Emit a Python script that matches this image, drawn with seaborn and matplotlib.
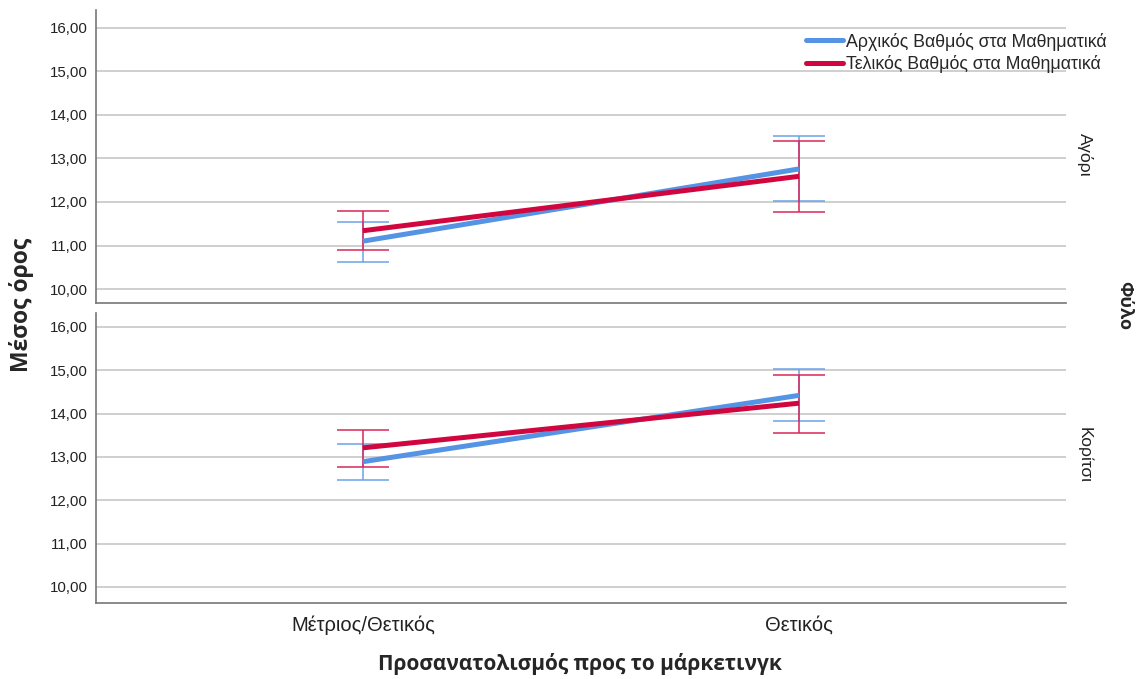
import numpy as np
import pandas as pd
import matplotlib
matplotlib.use("Agg")
import matplotlib.pyplot as plt
import seaborn as sns
from matplotlib.ticker import FuncFormatter, FixedLocator

sns.set_theme(style="white")
plt.rcParams["font.family"] = ["Liberation Sans", "DejaVu Sans"]

# Data: mean grades with confidence interval bounds, by gender and marketing orientation
categories = ["Μέτριος/Θετικός", "Θετικός"]
series_names = ["Αρχικός Βαθμός στα Μαθηματικά", "Τελικός Βαθμός στα Μαθηματικά"]
genders = ["Αγόρι", "Κορίτσι"]

boy_initial_mean = [11.10, 12.76]
boy_initial_low = [10.62, 12.02]
boy_initial_high = [11.55, 13.51]
boy_final_mean = [11.34, 12.59]
boy_final_low = [10.89, 11.78]
boy_final_high = [11.80, 13.41]

girl_initial_mean = [12.89, 14.42]
girl_initial_low = [12.46, 13.82]
girl_initial_high = [13.29, 15.02]
girl_final_mean = [13.21, 14.24]
girl_final_low = [12.77, 13.56]
girl_final_high = [13.62, 14.89]

yticks = [10, 11, 12, 13, 14, 15, 16]

rows = []
for g, series in [
    ("Αγόρι", [(boy_initial_mean, boy_initial_low, boy_initial_high),
               (boy_final_mean, boy_final_low, boy_final_high)]),
    ("Κορίτσι", [(girl_initial_mean, girl_initial_low, girl_initial_high),
                 (girl_final_mean, girl_final_low, girl_final_high)]),
]:
    for name, (m, lo, hi) in zip(series_names, series):
        for c, mv, lv, hv in zip(categories, m, lo, hi):
            rows.append({"Φύλο": g, "Σειρά": name, "Κατηγορία": c,
                         "Μέσος": mv, "Κάτω": lv, "Άνω": hv})
df = pd.DataFrame(rows)

line_colors = {series_names[0]: "#5593E4", series_names[1]: "#D1063E"}
err_colors = {series_names[0]: "#6AA3EA", series_names[1]: "#D9285A"}

fig = plt.figure(figsize=(11.36, 6.79), dpi=100)
W, H = 1136, 679
left, right = 96 / W, 1066 / W
ax_top = fig.add_axes([left, 1 - 303 / H, right - left, (303 - 10) / H])
ax_bot = fig.add_axes([left, 1 - 603 / H, right - left, (603 - 313) / H])

fmt = FuncFormatter(lambda v, p: f"{v:.2f}".replace(".", ","))
xpos = {c: i for i, c in enumerate(categories)}

panels = [(ax_top, "Αγόρι", (9.68, 16.41), 155, 10, 303),
          (ax_bot, "Κορίτσι", (9.63, 16.32), 455, 313, 603)]

for ax, g, ylim, label_y, top_px, bot_px in panels:
    sub = df[df["Φύλο"] == g]
    # confidence-interval whiskers
    for name in series_names:
        s = sub[sub["Σειρά"] == name]
        x = s["Κατηγορία"].map(xpos).to_numpy()
        m = s["Μέσος"].to_numpy()
        ax.errorbar(x, m, yerr=[m - s["Κάτω"].to_numpy(), s["Άνω"].to_numpy() - m],
                    fmt="none", ecolor=err_colors[name], elinewidth=1.3,
                    capsize=18.7, capthick=1.3, alpha=0.85, zorder=3)
    # mean lines
    sns.lineplot(data=sub, x="Κατηγορία", y="Μέσος", hue="Σειρά",
                 hue_order=series_names, palette=line_colors, sort=False,
                 linewidth=3.6, ax=ax, legend=False, zorder=4,
                 marker="", solid_capstyle="butt", errorbar=None)
    ax.set_xlim(-0.612, 1.612)
    ax.set_ylim(*ylim)
    ax.yaxis.set_major_locator(FixedLocator(yticks))
    ax.yaxis.set_major_formatter(fmt)
    ax.grid(axis="y", color="#cfcfcf", linewidth=1.4)
    ax.grid(axis="x", visible=False)
    ax.set_axisbelow(True)
    for sp in ["top", "right"]:
        ax.spines[sp].set_visible(False)
    for sp in ["left", "bottom"]:
        ax.spines[sp].set_color("#777777")
        ax.spines[sp].set_linewidth(1.2)
    ax.tick_params(axis="both", length=0, labelsize=10.8, colors="#222222", pad=6)
    ax.set_xlabel("")
    ax.set_ylabel("")
    # facet label on the right
    ax.text(1.011, 1 - (label_y - top_px) / (bot_px - top_px), g,
            transform=ax.transAxes, rotation=270, ha="left", va="center",
            fontsize=12.5, color="#222222")

ax_top.set_xticks([0, 1])
ax_top.set_xticklabels([])
ax_bot.set_xticks([0, 1])
ax_bot.set_xticklabels(categories, fontsize=14.5, color="#222222")
ax_bot.tick_params(axis="x", pad=9)

fig.text(580 / W, 1 - 664 / H, "Προσανατολισμός προς το μάρκετινγκ",
         ha="center", va="center", fontsize=15, fontweight="bold",
         family=["Open Sans", "DejaVu Sans"])
fig.text(22 / W, 1 - 305 / H, "Μέσος όρος", ha="center", va="center",
         rotation=90, fontsize=16.5, fontweight="bold",
         family=["Open Sans", "DejaVu Sans"])
fig.text(1124 / W, 1 - 306 / H, "Φύλο", ha="center", va="center",
         rotation=270, fontsize=13, fontweight="bold",
         family=["Open Sans", "DejaVu Sans"])

handles = [plt.Line2D([], [], color=line_colors[n], linewidth=3.6) for n in series_names]
fig.legend(handles, series_names, loc="upper left",
           bbox_to_anchor=(802 / W, 1 - 29 / H), frameon=False, fontsize=12.8,
           handlelength=2.1, handletextpad=0.2, labelspacing=0.25,
           borderpad=0.2, borderaxespad=0)

fig.savefig("out.png", dpi=100)
